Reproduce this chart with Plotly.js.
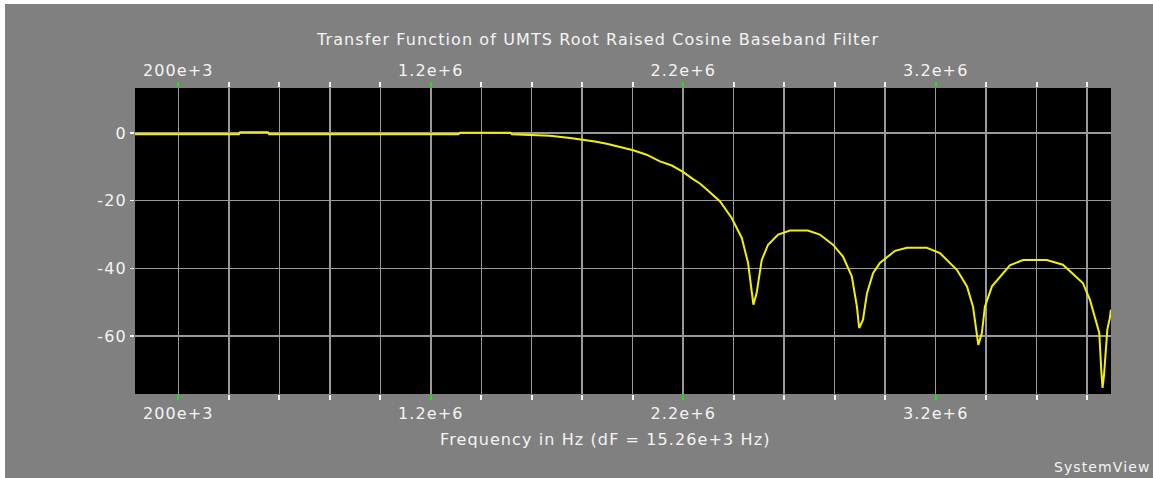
<!DOCTYPE html>
<html>
<head>
<meta charset="utf-8">
<script src="https://cdn.plot.ly/plotly-3.0.1.min.js"></script>
<style>
  html, body { margin: 0; padding: 0; background: #ffffff; width: 1153px; height: 478px; overflow: hidden; }
  #chart { position: absolute; left: 5px; top: 4px; width: 1148px; height: 474px; }
  text { letter-spacing: 1.1px; }
</style>
</head>
<body>
<div id="chart"></div>
<script>
// ---- data ----
const freqHz = [
  28.5e3, 440e3, 445e3, 555e3, 560e3, 1310e3, 1316e3, 1515e3, 1521e3,
  1672e3, 1752e3, 1803e3, 1850e3, 1897e3, 1950e3, 2002e3, 2055e3, 2108e3,
  2155e3, 2199e3, 2239e3, 2266e3, 2298e3, 2346e3, 2392e3, 2432e3, 2457e3,
  2472e3, 2478e3, 2491e3, 2511e3, 2536e3, 2576e3, 2623e3, 2694e3, 2741e3,
  2793e3, 2833e3, 2868e3, 2888e3, 2897e3, 2912e3, 2928e3, 2952e3, 2979e3,
  3039e3, 3086e3, 3165e3, 3217e3, 3284e3, 3324e3, 3348e3, 3369e3, 3383e3,
  3395e3, 3423e3, 3455e3, 3494e3, 3546e3, 3640e3, 3704e3, 3783e3, 3811e3,
  3838e3, 3848e3, 3856e3, 3861e3, 3867e3, 3875e3, 3880e3, 3890e3, 3894e3
];
const magnitudeDb = [
  -0.4, -0.4, 0.2, 0.2, -0.4, -0.4, 0.1, 0.1, -0.4,
  -0.8, -1.5, -2.0, -2.5, -3.2, -4.1, -5.1, -6.4, -8.4,
  -9.6, -11.5, -13.6, -14.9, -17.0, -20.2, -25.1, -31.0, -38.4,
  -47.0, -50.7, -47.2, -37.5, -33.0, -30.0, -28.8, -28.8, -30.0,
  -33.0, -36.5, -42.4, -51.3, -57.6, -55.2, -47.3, -41.4, -38.4,
  -34.8, -33.9, -33.9, -35.5, -40.4, -45.3, -51.3, -62.6, -59.1,
  -51.3, -45.3, -42.4, -39.1, -37.5, -37.5, -38.9, -44.3, -49.3,
  -56.0, -59.0, -70.0, -75.3, -71.4, -62.0, -58.0, -54.6, -52.2
];
const majorTickVals = [200e3, 1.2e6, 2.2e6, 3.2e6];
const majorTickText = ['200e+3', '1.2e+6', '2.2e+6', '3.2e+6'];
const minorTickVals = [400e3, 600e3, 800e3, 1.0e6, 1.4e6, 1.6e6, 1.8e6, 2.0e6,
                       2.4e6, 2.6e6, 2.8e6, 3.0e6, 3.4e6, 3.6e6, 3.8e6];
const yTickVals = [0, -20, -40, -60];
const yTickText = ['0', '-20', '-40', '-60'];
const xRange = [28.5e3, 3.8945e6];
const yRange = [-77.1, 13.3];

const titleText = 'Transfer Function of UMTS Root Raised Cosine Baseband Filter';
const xTitleText = 'Frequency in Hz (dF = 15.26e+3 Hz)';
const brandText = 'SystemView';

// ---- styling ----
const FONT = 'DejaVu Sans, Arial, sans-serif';
const white = '#f4f4f4';
const gridColor = '#9a9a9a';
const green = '#19e619';

const baseAxis = {
  range: xRange, autorange: false, fixedrange: true,
  zeroline: false, showline: false, anchor: 'y',
  ticks: 'outside', ticklen: 5, tickwidth: 2,
  tickfont: {family: FONT, size: 16, color: white},
  tickmode: 'array'
};

const traces = [
  {x: freqHz, y: magnitudeDb, type: 'scatter', mode: 'lines',
   line: {color: '#f2f200', width: 2}, xaxis: 'x', yaxis: 'y',
   hoverinfo: 'skip', showlegend: false},
  {x: xRange, y: [null, null], type: 'scatter', mode: 'lines', xaxis: 'x2', yaxis: 'y', showlegend: false, hoverinfo: 'skip'},
  {x: xRange, y: [null, null], type: 'scatter', mode: 'lines', xaxis: 'x3', yaxis: 'y', showlegend: false, hoverinfo: 'skip'},
  {x: xRange, y: [null, null], type: 'scatter', mode: 'lines', xaxis: 'x4', yaxis: 'y', showlegend: false, hoverinfo: 'skip'}
];

const layout = {
  width: 1148, height: 474,
  paper_bgcolor: '#808080', plot_bgcolor: '#000000',
  margin: {l: 130, r: 42, t: 84, b: 84, pad: 0},
  showlegend: false,
  xaxis: Object.assign({}, baseAxis, {
    side: 'bottom', tickvals: minorTickVals, ticktext: minorTickVals.map(() => ''),
    showticklabels: false, tickcolor: white,
    showgrid: true, gridcolor: gridColor, gridwidth: 1.5
  }),
  xaxis2: Object.assign({}, baseAxis, {
    side: 'bottom', overlaying: 'x', tickvals: majorTickVals, ticktext: majorTickText,
    tickcolor: green, showgrid: true, gridcolor: gridColor, gridwidth: 1.5
  }),
  xaxis3: Object.assign({}, baseAxis, {
    side: 'top', overlaying: 'x', tickvals: minorTickVals, ticktext: minorTickVals.map(() => ''),
    showticklabels: false, tickcolor: white, showgrid: false
  }),
  xaxis4: Object.assign({}, baseAxis, {
    side: 'top', overlaying: 'x', tickvals: majorTickVals, ticktext: majorTickText,
    tickcolor: green, showgrid: false
  }),
  yaxis: {
    range: yRange, autorange: false, fixedrange: true,
    zeroline: false, showline: false,
    tickmode: 'array', tickvals: yTickVals, ticktext: yTickText,
    ticks: 'outside', ticklen: 4, tickwidth: 1.5, tickcolor: white,
    tickfont: {family: FONT, size: 16, color: white},
    showgrid: true, gridcolor: gridColor, gridwidth: 1.5
  },
  annotations: [
    {text: titleText, xref: 'paper', yref: 'paper', x: 0.474, y: 1.157,
     xanchor: 'center', yanchor: 'middle', showarrow: false,
     font: {family: FONT, size: 16, color: white}},
    {text: xTitleText, xref: 'paper', yref: 'paper', x: 0.4816, y: -0.150,
     xanchor: 'center', yanchor: 'middle', showarrow: false,
     font: {family: FONT, size: 16, color: white}},
    {text: brandText, xref: 'paper', yref: 'paper', x: 1.042, y: -0.2386,
     xanchor: 'right', yanchor: 'middle', showarrow: false,
     font: {family: FONT, size: 14, color: white}}
  ]
};

Plotly.newPlot('chart', traces, layout, {staticPlot: true, displayModeBar: false});
</script>
</body>
</html>
